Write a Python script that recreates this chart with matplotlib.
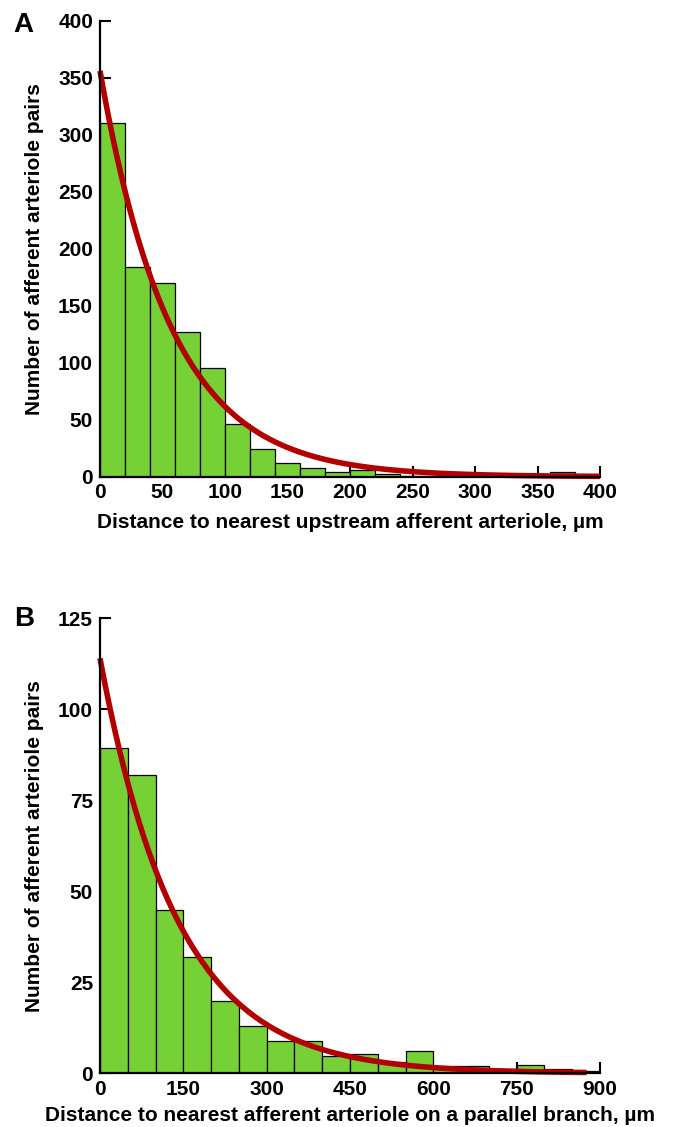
import numpy as np
import matplotlib
matplotlib.use('Agg')
import matplotlib.pyplot as plt

plt.rcParams['font.family'] = ['Liberation Sans', 'DejaVu Sans']
plt.rcParams['font.weight'] = 'bold'

# panel A: distance to nearest upstream afferent arteriole (20 um bins)
bin_a = 20
counts_a = [310, 184, 170, 127, 95, 46, 24, 12, 8, 4,
            6, 2, 1, 1, 0, 0, 0, 0, 4, 0]
# exponential fit
fit_a_amp = 356
fit_a_len = 57
fit_a_end = 400

# panel B: distance to nearest afferent arteriole on a parallel branch (50 um bins)
bin_b = 50
counts_b = [89.5, 82, 45, 32, 20, 13, 9, 9, 4.7, 5.3,
            3, 6, 2, 2, 1.2, 2.4, 1.3, 0.7]
fit_b_amp = 114
fit_b_len = 140
fit_b_end = 876

xticks_a = [0, 50, 100, 150, 200, 250, 300, 350, 400]
yticks_a = [0, 50, 100, 150, 200, 250, 300, 350, 400]
xticks_b = [0, 150, 300, 450, 600, 750, 900]
yticks_b = [0, 25, 50, 75, 100, 125]

GREEN = '#76d136'
RED = '#b20000'
FS = 15


def draw_panel(ax, binw, counts, amp, lam, xend, xticks, yticks, xlabel, lpad):
    edges = np.arange(len(counts)) * binw
    ax.bar(edges, counts, width=binw, align='edge', color=GREEN,
           edgecolor='black', linewidth=0.9, zorder=2)
    xs = np.linspace(0, xend, 300)
    ax.plot(xs, amp * np.exp(-xs / lam), color=RED, lw=4, zorder=3,
            solid_capstyle='butt', clip_on=False)
    ax.set_xlim(xticks[0], xticks[-1])
    ax.set_ylim(yticks[0], yticks[-1])
    ax.set_xticks(xticks)
    ax.set_yticks(yticks)
    for s in ['top', 'right']:
        ax.spines[s].set_visible(False)
    for s in ['left', 'bottom']:
        ax.spines[s].set_linewidth(1.6)
        ax.spines[s].set_zorder(4)
    ax.tick_params(direction='in', length=8, width=1.5, labelsize=FS,
                   pad=5)
    ax.tick_params(axis='x', pad=4.5)
    ax.set_xlabel(xlabel, fontsize=FS, fontweight='bold', labelpad=lpad)
    ax.set_ylabel('Number of afferent arteriole pairs', fontsize=FS,
                  fontweight='bold')
    ax.yaxis.set_label_coords(-0.112, 0.5)


fig = plt.figure(figsize=(6.74, 11.27), dpi=100)
ax1 = fig.add_axes([100 / 674, 1 - 476.7 / 1127, 500 / 674, 456 / 1127])
ax2 = fig.add_axes([100 / 674, 1 - 1073.3 / 1127, 500 / 674, 455 / 1127])

draw_panel(ax1, bin_a, counts_a, fit_a_amp, fit_a_len, fit_a_end,
           xticks_a, yticks_a,
           'Distance to nearest upstream afferent arteriole, µm', 8)
draw_panel(ax2, bin_b, counts_b, fit_b_amp, fit_b_len, fit_b_end,
           xticks_b, yticks_b,
           'Distance to nearest afferent arteriole on a parallel branch, µm', 5.5)

fig.text(13 / 674, 1 - 32 / 1127, 'A', fontsize=20, fontweight='bold',
         va='baseline', ha='left')
fig.text(14 / 674, 1 - 626 / 1127, 'B', fontsize=20, fontweight='bold',
         va='baseline', ha='left')

fig.savefig('out.png', dpi=100)
